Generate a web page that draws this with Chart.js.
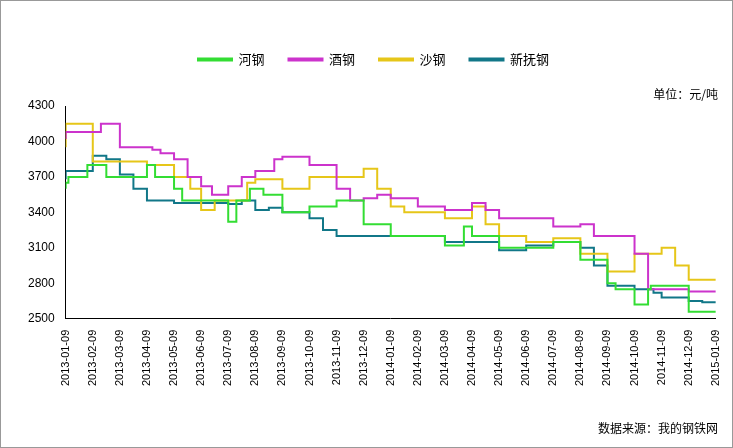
<!DOCTYPE html><html><head><meta charset="utf-8">
<script src="https://cdn.jsdelivr.net/npm/chart.js@4/dist/chart.umd.min.js"></script>
<style>body{margin:0;background:#fff}#w{position:relative;width:731px;height:446px;border:1px solid #999}
.t{position:absolute;font:12px "Noto Sans CJK SC",sans-serif;color:#000}</style></head><body>
<div id="w"><canvas id="c" width="731" height="446"></canvas>
<div class="t" style="right:14px;top:84px">单位：元/吨</div>
<div class="t" style="right:14px;top:418px">数据来源：我的钢铁网</div></div>
<script>
const months=["2013-01-09","2013-02-09","2013-03-09","2013-04-09","2013-05-09","2013-06-09","2013-07-09","2013-08-09","2013-09-09","2013-10-09","2013-11-09","2013-12-09","2014-01-09","2014-02-09","2014-03-09","2014-04-09","2014-05-09","2014-06-09","2014-07-09","2014-08-09","2014-09-09","2014-10-09","2014-11-09","2014-12-09","2015-01-09"];
const heX=[0,0.1,0.8,1.5,3.0,3.3,4.0,4.3,6.0,6.3,6.8,7.3,8.0,9.0,10,11,12,14,14.7,15,16,18,19,20,20.3,21,21.5,21.6,23,23.9,24];
const heY=[3600,3650,3700,3800,3700,3800,3700,3600,3500,3320,3500,3600,3550,3400,3450,3500,3300,3200,3120,3280,3200,3100,3150,3000,2800,2750,2620,2750,2780,2560,2560];
const jiuX=[0,1,1.3,2.0,3.2,3.5,4,4.5,5.0,5.4,6.0,6.5,7,7.7,8,9,10,10.5,11,11.5,12,13,14,15,15.5,15.7,16,18,19,19.5,21,21.5,23,23.8,24];
const jiuY=[4020,4080,4080,4150,3950,3930,3900,3850,3700,3620,3550,3620,3700,3750,3850,3870,3800,3600,3500,3520,3550,3520,3450,3420,3480,3420,3420,3350,3280,3300,3200,3050,2750,2730,2730];
const shaX=[0,1,3.0,4.0,4.6,5,5.5,6.7,7,8,9,11,11.5,12,12.5,14,15,15.5,16,17,18,19,20,21,22,22.5,23,23.8,24];
const shaY=[3950,4150,3830,3800,3700,3600,3420,3500,3650,3680,3600,3700,3770,3600,3450,3400,3350,3450,3300,3200,3150,3180,3050,2900,3050,3100,2950,2830,2830];
const xfX=[0,1.0,1.5,2,2.5,3,4,6,6.5,7,7.5,8,9,9.5,10,14,16,17,18,19,19.5,20,21,21.7,22,23,23.5,24];
const xfY=[3680,3750,3880,3850,3720,3600,3500,3480,3470,3500,3420,3440,3400,3350,3250,3200,3150,3080,3120,3150,3100,2950,2780,2750,2720,2680,2650,2640];
const mk=(xs,ys)=>xs.map((x,i)=>({x,y:ys[i]}));
const ds=[["河钢",heX,heY,"#33dd33"],["酒钢",jiuX,jiuY,"#cc33cc"],["沙钢",shaX,shaY,"#e6c619"],["新抚钢",xfX,xfY,"#117788"]].map(([l,x,y,c])=>({label:l,data:mk(x,y),borderColor:c,backgroundColor:c,borderWidth:2,pointRadius:0,stepped:'after'}));
const padLegend={id:'pl',beforeInit(ch){const f=ch.legend.fit;ch.legend.fit=function(){f.bind(ch.legend)();this.height+=30;};}};
new Chart(document.getElementById('c'),{type:'line',data:{datasets:ds},plugins:[padLegend],options:{responsive:false,animation:false,
layout:{padding:{right:10,left:24,bottom:58,top:28}},
plugins:{legend:{labels:{boxWidth:34,boxHeight:2,padding:24,font:{size:13,family:"Noto Sans CJK SC"},color:'#000'}},tooltip:{enabled:false}},
scales:{x:{type:'linear',min:0,max:24,grid:{display:false},border:{color:'#000'},ticks:{stepSize:1,maxRotation:90,minRotation:90,autoSkip:false,color:'#000',font:{size:11},callback:v=>months[v]}},
y:{min:2500,max:4300,grid:{display:false},border:{color:'#000'},ticks:{stepSize:300,color:'#000',font:{size:12},callback:v=>String(v)}}}}});
</script></body></html>
